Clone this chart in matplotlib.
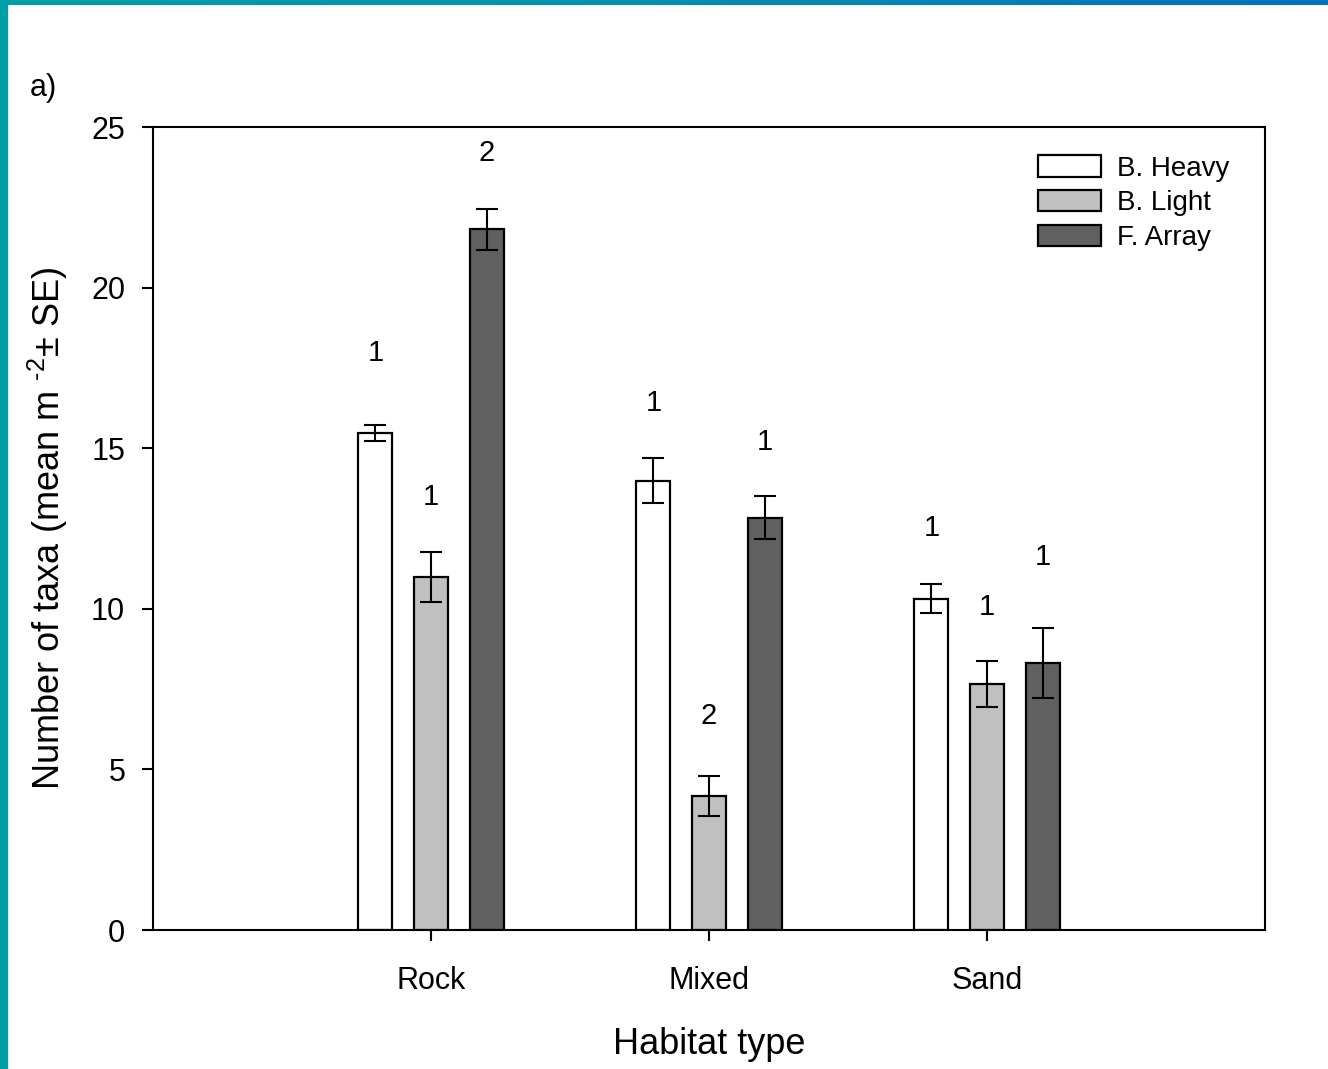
import matplotlib.pyplot as plt
import numpy as np
from matplotlib.colors import LinearSegmentedColormap

plt.rcParams['font.family'] = ['Liberation Sans', 'DejaVu Sans']
plt.rcParams['mathtext.fontset'] = 'custom'
plt.rcParams['mathtext.rm'] = 'Liberation Sans'
plt.rcParams['mathtext.it'] = 'Liberation Sans'

# Habitat types and treatment means / SE
habitats = ['Rock', 'Mixed', 'Sand']
treatments = ['B. Heavy', 'B. Light', 'F. Array']
means = {
    'B. Heavy': [15.47, 13.98, 10.31],
    'B. Light': [10.99, 4.17, 7.66],
    'F. Array': [21.82, 12.83, 8.31],
}
se = {
    'B. Heavy': [0.25, 0.70, 0.45],
    'B. Light': [0.78, 0.62, 0.72],
    'F. Array': [0.64, 0.67, 1.09],
}
# significance group labels and their heights
groups = {
    'B. Heavy': ['1', '1', '1'],
    'B. Light': ['1', '2', '1'],
    'F. Array': ['2', '1', '1'],
}
label_y = {
    'B. Heavy': [17.96, 16.4, 12.5],
    'B. Light': [13.48, 6.66, 10.05],
    'F. Array': [24.2, 15.2, 11.6],
}
colors = ['white', '#c0c0c0', '#606060']

fig = plt.figure(figsize=(13.28, 10.69), dpi=100)

# decorative frame: teal left strip, gradient top strip
fig.patches.append(plt.Rectangle((0, 0), 7 / 1328, 1, transform=fig.transFigure,
                                 color='#00a0a8', zorder=0))
top = fig.add_axes([0, 1 - 5 / 1069, 1, 5 / 1069])
grad = np.linspace(0, 1, 256)[None, :]
cmap = LinearSegmentedColormap.from_list('bar', ['#00a0a8', '#0090b0', '#0070c0'])
top.imshow(grad, aspect='auto', cmap=cmap)
top.axis('off')

ax = fig.add_axes([153 / 1328, 1 - 930 / 1069, 1112 / 1328, 803 / 1069])

x = np.arange(len(habitats))
width = 0.122
offsets = [-0.2, 0.0, 0.2]
for t, c, off in zip(treatments, colors, offsets):
    ax.bar(x + off, means[t], width, color=c, edgecolor='black', linewidth=1.6,
           label=t, zorder=2)
    ax.errorbar(x + off, means[t], yerr=se[t], fmt='none', ecolor='black',
                elinewidth=1.5, capsize=8, capthick=1.5, zorder=3)
    for xi, g, ly in zip(x + off, groups[t], label_y[t]):
        ax.text(xi, ly, g, ha='center', va='center', fontsize=21)

ax.set_xlim(-1, 3)
ax.set_ylim(0, 25)
ax.set_xticks(x)
ax.set_xticklabels(habitats)
ax.set_yticks([0, 5, 10, 15, 20, 25])
ax.tick_params(axis='both', labelsize=22, width=1.5, length=8, direction='out')
ax.tick_params(axis='x', pad=18)
ax.tick_params(axis='y', pad=12)
for s in ax.spines.values():
    s.set_linewidth(1.5)

ax.set_xlabel('Habitat type', fontsize=26, labelpad=22)
ax.set_ylabel(r'Number of taxa (mean m $^{\text{-}2}$± SE)', fontsize=26, labelpad=15)

ax.legend(loc='upper left', bbox_to_anchor=(0.783, 0.982), frameon=False,
          fontsize=20, handlelength=2.3, handleheight=0.8, labelspacing=0.3,
          handletextpad=0.55, borderpad=0)

fig.text(30 / 1328, 1 - 88 / 1069, 'a)', fontsize=22, va='center')

fig.savefig('out.png', dpi=100)
